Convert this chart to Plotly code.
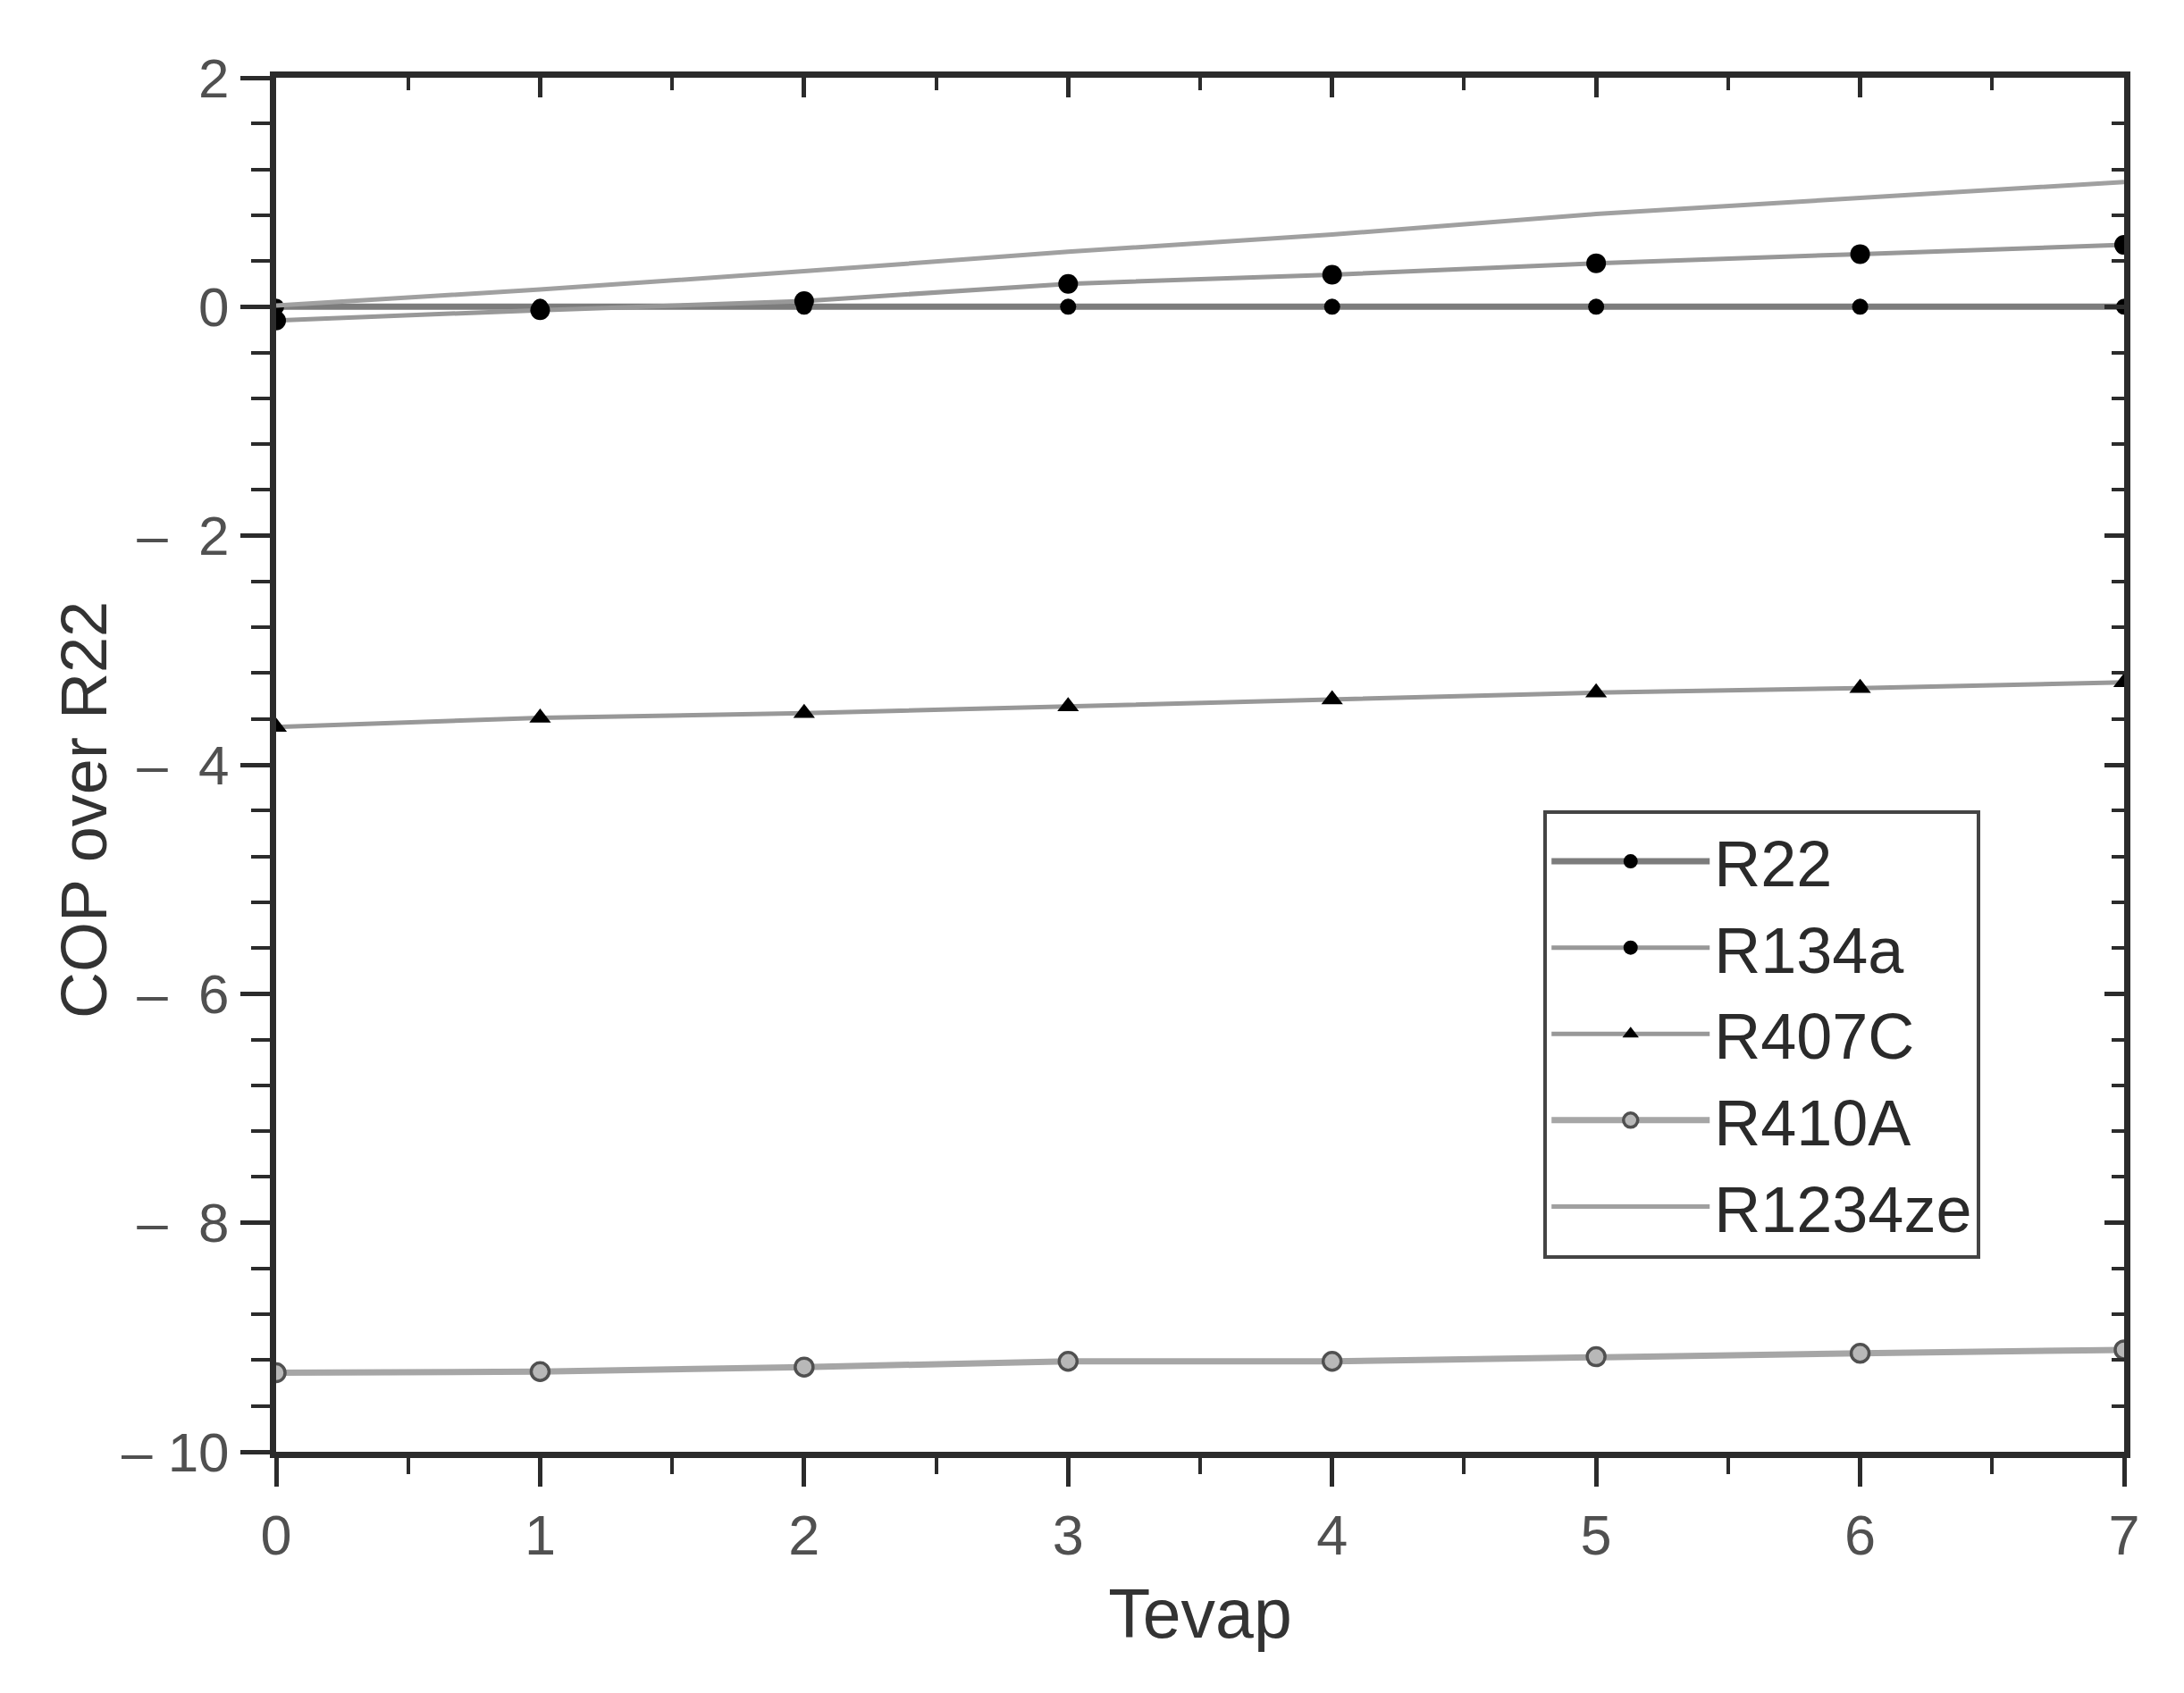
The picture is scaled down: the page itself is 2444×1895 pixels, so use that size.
import plotly.graph_objects as go

# ---- data ----
tevap = [0, 1, 2, 3, 4, 5, 6, 7]
r22 = [0, 0, 0, 0, 0, 0, 0, 0]
r134a = [-0.12, -0.03, 0.05, 0.20, 0.28, 0.38, 0.46, 0.54]
r407c = [-3.67, -3.59, -3.55, -3.49, -3.43, -3.37, -3.33, -3.28]
r410a = [-9.31, -9.30, -9.26, -9.21, -9.21, -9.17, -9.14, -9.11]
r1234ze = [0.01, 0.15, 0.31, 0.48, 0.63, 0.81, 0.95, 1.09]

x_ticks = [0, 1, 2, 3, 4, 5, 6, 7]
y_ticks = [2, 0, -2, -4, -6, -8, -10]
y_ticktext = ["2", "0", "\u2013\u00a0\u00a02", "\u2013\u00a0\u00a04", "\u2013\u00a0\u00a06",
              "\u2013\u00a0\u00a08", "\u2013\u00a010"]

FONT = "Liberation Sans, Arial, sans-serif"
AX = "#2b2b2b"

fig = go.Figure()

fig.add_trace(go.Scatter(x=tevap, y=r22, name="R22", mode="lines+markers",
                         line=dict(color="#7c7c7c", width=7),
                         marker=dict(symbol="circle", size=18, color="black")))
fig.add_trace(go.Scatter(x=tevap, y=r134a, name="R134a", mode="lines+markers",
                         line=dict(color="#989898", width=5),
                         marker=dict(symbol="circle", size=22, color="black")))
fig.add_trace(go.Scatter(x=tevap, y=r407c, name="R407C", mode="lines+markers",
                         line=dict(color="#989898", width=5),
                         marker=dict(symbol="triangle-up", size=21, color="black")))
fig.add_trace(go.Scatter(x=tevap, y=r410a, name="R410A", mode="lines+markers",
                         line=dict(color="#a6a6a6", width=7),
                         marker=dict(symbol="circle", size=20, color="#b8b8b8",
                                     line=dict(color="#505050", width=3.5))))
fig.add_trace(go.Scatter(x=tevap, y=r1234ze, name="R1234ze", mode="lines",
                         line=dict(color="#a0a0a0", width=5)))

# helper trace for mirrored (inside-tick) top/right axes
fig.add_trace(go.Scatter(x=[None], y=[None], xaxis="x2", yaxis="y2",
                         showlegend=False, hoverinfo="skip"))

fig.update_layout(
    width=2444, height=1895,
    margin=dict(l=301, r=75, t=79, b=278),
    paper_bgcolor="white", plot_bgcolor="white",
    font=dict(family=FONT, color="#444444"),
    showlegend=True,
    legend=dict(
        x=0.6858, y=0.467, xanchor="left", yanchor="top",
        bgcolor="white", bordercolor="#444444", borderwidth=4,
        font=dict(size=72, color="#2a2a2a", family=FONT),
        itemwidth=177, tracegroupgap=0,
    ),
    xaxis=dict(
        range=[0, 7], tickmode="array", tickvals=x_ticks,
        ticks="outside", ticklen=32, tickwidth=5, tickcolor=AX,
        showline=True, linecolor=AX, linewidth=7,
        showgrid=False, zeroline=False,
        tickfont=dict(size=63, color="#505050", family=FONT),
        minor=dict(tickmode="linear", tick0=0, dtick=0.5, ticks="outside",
                   ticklen=18, tickwidth=4, tickcolor=AX, showgrid=False),
        title=dict(text="Tevap", font=dict(size=77, color="#333333", family=FONT),
                   standoff=30),
    ),
    yaxis=dict(
        range=[-10, 2], tickmode="array", tickvals=y_ticks, ticktext=y_ticktext,
        ticks="outside", ticklen=33, tickwidth=5, tickcolor=AX,
        showline=True, linecolor=AX, linewidth=7,
        showgrid=False, zeroline=False,
        tickfont=dict(size=62, color="#505050", family=FONT),
        minor=dict(tickmode="linear", tick0=0, dtick=0.4, ticks="outside",
                   ticklen=21, tickwidth=4, tickcolor=AX, showgrid=False),
    ),
    xaxis2=dict(
        range=[0, 7], overlaying="x", side="top", anchor="y2",
        tickmode="linear", tick0=0, dtick=1,
        ticks="inside", ticklen=22, tickwidth=5, tickcolor=AX,
        showticklabels=False, showline=True, linecolor=AX, linewidth=7,
        showgrid=False, zeroline=False,
        minor=dict(tickmode="linear", tick0=0, dtick=0.5, ticks="inside",
                   ticklen=14, tickwidth=4, tickcolor=AX, showgrid=False),
    ),
    yaxis2=dict(
        range=[-10, 2], overlaying="y", side="right", anchor="x2",
        tickmode="linear", tick0=0, dtick=2,
        ticks="inside", ticklen=22, tickwidth=5, tickcolor=AX,
        showticklabels=False, showline=True, linecolor=AX, linewidth=7,
        showgrid=False, zeroline=False,
        minor=dict(tickmode="linear", tick0=0, dtick=0.4, ticks="inside",
                   ticklen=14, tickwidth=4, tickcolor=AX, showgrid=False),
    ),
    annotations=[dict(
        text="COP over R22", textangle=-90, showarrow=False,
        xref="paper", yref="paper", x=-0.104, y=0.4675,
        xanchor="center", yanchor="middle",
        font=dict(size=72, color="#333333", family=FONT),
    )],
)

fig.write_html("out.html")
